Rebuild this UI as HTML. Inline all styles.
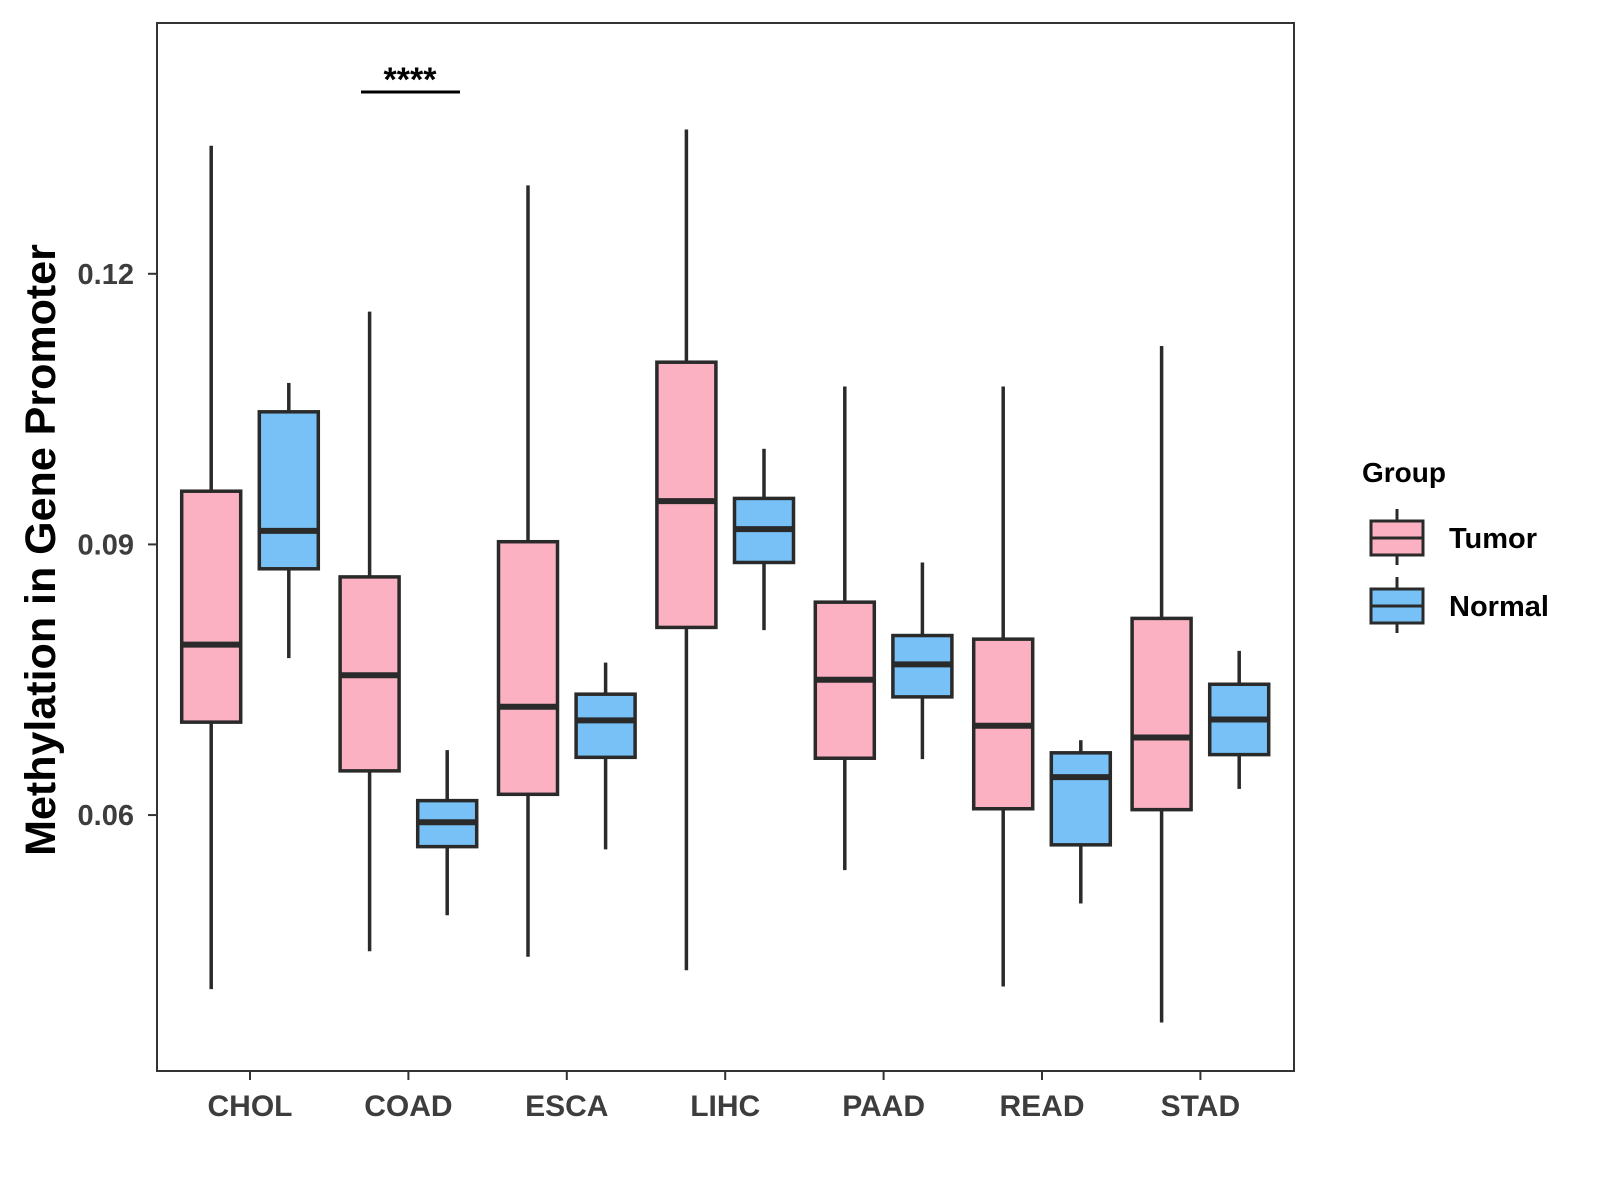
<!DOCTYPE html>
<html><head><meta charset="utf-8"><style>
html,body{margin:0;padding:0;background:#fff;}
svg{display:block;font-family:"Liberation Sans",Arial,sans-serif;}
</style></head><body>
<svg id="chart" width="1600" height="1200">
<rect x="157" y="23" width="1137" height="1048" fill="#fff" stroke="#333" stroke-width="2"/>
<g id="marks"></g>
<g id="axes"></g>
<text x="41" y="550" transform="rotate(-90 41 550)" text-anchor="middle" dominant-baseline="central" font-size="43" font-weight="bold" fill="#000">Methylation in Gene Promoter</text>
<line x1="361" y1="92" x2="460" y2="92" stroke="#000" stroke-width="3"/>
<text x="410" y="91" text-anchor="middle" font-size="34" font-weight="bold" fill="#000">****</text>
<g>
<text x="1362" y="482" font-size="28" font-weight="bold" fill="#000">Group</text>
<g>
<line x1="1397" y1="509" x2="1397" y2="565" stroke="#2a2a2a" stroke-width="3"/>
<rect x="1371" y="521" width="52" height="34" fill="#fbb1c2" stroke="#2a2a2a" stroke-width="3"/>
<line x1="1371" y1="538" x2="1423" y2="538" stroke="#2a2a2a" stroke-width="3"/>
<text x="1449" y="548" font-size="29" font-weight="bold" fill="#000">Tumor</text>
</g>
<g>
<line x1="1397" y1="577" x2="1397" y2="633" stroke="#2a2a2a" stroke-width="3"/>
<rect x="1371" y="589" width="52" height="34" fill="#77c1f7" stroke="#2a2a2a" stroke-width="3"/>
<line x1="1371" y1="606" x2="1423" y2="606" stroke="#2a2a2a" stroke-width="3"/>
<text x="1449" y="616" font-size="29" font-weight="bold" fill="#000">Normal</text>
</g>
</g>
</svg>
<script>
const categories = ["CHOL","COAD","ESCA","LIHC","PAAD","READ","STAD"];
const groups = ["Tumor","Normal"];
const tumorMin = [0.0407,0.0449,0.0443,0.0428,0.0539,0.0410,0.0370];
const tumorQ1 = [0.0703,0.0649,0.0623,0.0808,0.0663,0.0607,0.0606];
const tumorMed = [0.0789,0.0755,0.0720,0.0948,0.0750,0.0699,0.0686];
const tumorQ3 = [0.0959,0.0864,0.0903,0.1102,0.0836,0.0795,0.0818];
const tumorMax = [0.1342,0.1158,0.1298,0.1360,0.1075,0.1075,0.1120];
const normalMin = [0.0774,0.0489,0.0562,0.0805,0.0662,0.0502,0.0629];
const normalQ1 = [0.0873,0.0565,0.0664,0.0880,0.0731,0.0567,0.0667];
const normalMed = [0.0915,0.0592,0.0705,0.0917,0.0767,0.0642,0.0706];
const normalQ3 = [0.1047,0.0616,0.0734,0.0951,0.0799,0.0669,0.0745];
const normalMax = [0.1079,0.0672,0.0769,0.1006,0.0880,0.0683,0.0782];
const yTicks = [0.06,0.09,0.12];
const yTickLabels = ["0.06","0.09","0.12"];

const NS="http://www.w3.org/2000/svg";
const yMinV=0.03163,yMaxV=0.1478,plotTop=23,plotBottom=1071;
function yScale(v){return plotBottom-(v-yMinV)/(yMaxV-yMinV)*(plotBottom-plotTop);}
function xScale(i){return 250+i*158.4;}
const dodge=38.8,bw=59;
function mk(t,a,p){const e=document.createElementNS(NS,t);for(const k in a)e.setAttribute(k,a[k]);p.appendChild(e);return e;}
const marksG=document.getElementById('marks'),axesG=document.getElementById('axes');
const series=[
 {name:"tumor",fill:"#fbb1c2",off:-dodge,mn:tumorMin,q1:tumorQ1,md:tumorMed,q3:tumorQ3,mx:tumorMax},
 {name:"normal",fill:"#77c1f7",off:dodge,mn:normalMin,q1:normalQ1,md:normalMed,q3:normalQ3,mx:normalMax}];
categories.forEach((c,i)=>{
 series.forEach(s=>{
  const cx=xScale(i)+s.off;
  const g=mk('g',{},marksG);
  
  
  mk('line',{x1:cx,x2:cx,y1:yScale(s.mx[i]),y2:yScale(s.q3[i]),stroke:'#2a2a2a','stroke-width':3.5},g);
  mk('line',{x1:cx,x2:cx,y1:yScale(s.q1[i]),y2:yScale(s.mn[i]),stroke:'#2a2a2a','stroke-width':3.5},g);
  mk('rect',{x:cx-bw/2,y:yScale(s.q3[i]),width:bw,height:yScale(s.q1[i])-yScale(s.q3[i]),fill:s.fill,stroke:'#2a2a2a','stroke-width':3.5},g);
  mk('line',{x1:cx-bw/2,x2:cx+bw/2,y1:yScale(s.md[i]),y2:yScale(s.md[i]),stroke:'#2a2a2a','stroke-width':6},g);
 });
 const t=mk('line',{x1:xScale(i),x2:xScale(i),y1:plotBottom,y2:plotBottom+9,stroke:'#333','stroke-width':2},axesG);
 
 
 const l=mk('text',{x:xScale(i),y:1116,'text-anchor':'middle','font-size':30,'font-weight':'bold',fill:'#3d3d3d'},axesG);
 l.textContent=c;
 
 
});
yTicks.forEach((v,i)=>{
 const t=mk('line',{x1:148,x2:157,y1:yScale(v),y2:yScale(v),stroke:'#333','stroke-width':2},axesG);
 
 
 const l=mk('text',{x:134,y:yScale(v)+10,'text-anchor':'end','font-size':29,'font-weight':'bold',fill:'#3d3d3d'},axesG);
 l.textContent=yTickLabels[i];
 
 
});
</script>
</body></html>
